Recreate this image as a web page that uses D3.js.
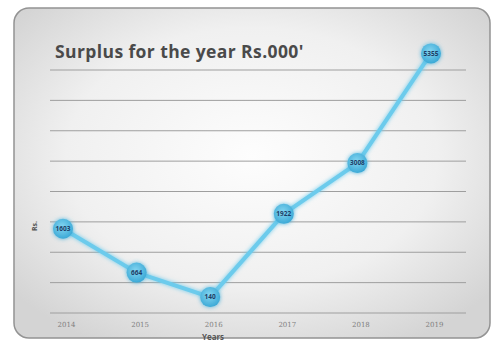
<!DOCTYPE html>
<html>
<head>
<meta charset="utf-8">
<script src="https://cdn.jsdelivr.net/npm/d3@7"></script>
<style>
  body { margin: 0; background: #fff; }
  svg { display: block; }
</style>
</head>
<body>
<script>
// surplus chart data
const years = ['2014', '2015', '2016', '2017', '2018', '2019'];
const surplus = [1603, 664, 140, 1922, 3008, 5355];
const gridLevels = [-200, 450, 1100, 1750, 2400, 3050, 3700, 4350, 5000];

function main(){
    const width = 504;
    const height = 346;

    const svg = d3.select('body')
        .append('svg')
        .attr('width', width)
        .attr('height', height);

    const defs = svg.append('defs');
    const bg = defs.append('radialGradient')
        .attr('id', 'panelFill')
        .attr('cx', '50%').attr('cy', '45%').attr('r', '65%');
    bg.append('stop').attr('offset', '0%').attr('stop-color', '#fdfdfd');
    bg.append('stop').attr('offset', '60%').attr('stop-color', '#f0f0f0');
    bg.append('stop').attr('offset', '100%').attr('stop-color', '#d4d4d4');

    const dot = defs.append('radialGradient')
        .attr('id', 'dotFill')
        .attr('cx', '45%').attr('cy', '40%').attr('r', '60%');
    dot.append('stop').attr('offset', '0%').attr('stop-color', '#84d6f1');
    dot.append('stop').attr('offset', '100%').attr('stop-color', '#3ca9d6');

    const glow = defs.append('filter').attr('id', 'glow')
        .attr('x', '-20%').attr('y', '-20%').attr('width', '140%').attr('height', '140%');
    glow.append('feGaussianBlur').attr('stdDeviation', 2).attr('result', 'b');
    const merge = glow.append('feMerge');
    merge.append('feMergeNode').attr('in', 'b');
    merge.append('feMergeNode').attr('in', 'SourceGraphic');

    // panel
    svg.append('rect')
        .attr('x', 14).attr('y', 8)
        .attr('width', 476).attr('height', 330)
        .attr('rx', 15)
        .attr('fill', 'url(#panelFill)')
        .attr('stroke', '#939393')
        .attr('stroke-width', 1.5);

    svg.append('text')
        .attr('x', 55).attr('y', 58)
        .attr('font-family', 'Open Sans, sans-serif')
        .attr('font-weight', 'bold')
        .attr('font-size', 17.5)
        .attr('letter-spacing', 0.4)
        .attr('fill', '#4a4a4a')
        .text("Surplus for the year Rs.000'");

    const xScale = d3.scalePoint()
        .domain(years)
        .range([63, 431]);

    const yScale = d3.scaleLinear()
        .domain([-200, 5000])
        .range([313, 70]);

    // gridlines
    svg.selectAll('.grid')
        .data(gridLevels)
        .enter()
        .append('line')
        .attr('class', 'grid')
        .attr('x1', 50).attr('x2', 466)
        .attr('y1', d => yScale(d))
        .attr('y2', d => yScale(d))
        .attr('stroke', '#9e9e9e')
        .attr('stroke-width', 1);

    // x axis labels
    const xAxis = d3.axisBottom(xScale).tickSize(0).tickPadding(8);
    const gx = svg.append('g')
        .attr('transform', 'translate(3,314)')
        .call(xAxis);
    gx.select('.domain').remove();
    gx.selectAll('text')
        .attr('font-family', 'DejaVu Serif, serif')
        .attr('font-size', 7)
        .attr('fill', '#808080');

    svg.append('text')
        .attr('x', 213).attr('y', 340)
        .attr('text-anchor', 'middle')
        .attr('font-family', 'Open Sans, sans-serif')
        .attr('font-weight', 'bold')
        .attr('font-size', 8)
        .attr('fill', '#555')
        .text('Years');

    svg.append('text')
        .attr('transform', 'translate(37,226) rotate(-90)')
        .attr('text-anchor', 'middle')
        .attr('font-family', 'Open Sans, sans-serif')
        .attr('font-weight', 'bold')
        .attr('font-size', 7)
        .attr('fill', '#555')
        .text('Rs.');

    // line
    const line = d3.line()
        .x((d, i) => xScale(years[i]))
        .y(d => yScale(d));

    svg.append('path')
        .datum(surplus)
        .attr('d', line)
        .attr('fill', 'none')
        .attr('stroke', '#6ccbec')
        .attr('stroke-width', 4)
        .attr('stroke-linejoin', 'round')
        .attr('filter', 'url(#glow)');

    const pts = svg.selectAll('.pt')
        .data(surplus)
        .enter()
        .append('g')
        .attr('class', 'pt')
        .attr('transform', (d, i) => `translate(${xScale(years[i])},${yScale(d)})`);

    pts.append('circle')
        .attr('r', 10)
        .attr('fill', 'url(#dotFill)')
        .attr('filter', 'url(#glow)');

    pts.append('text')
        .attr('text-anchor', 'middle')
        .attr('dy', '0.35em')
        .attr('font-family', 'Open Sans, sans-serif')
        .attr('font-weight', 'bold')
        .attr('font-size', 6.5)
        .attr('fill', '#1d3d66')
        .text(d => d);
}
main();
</script>
</body>
</html>
